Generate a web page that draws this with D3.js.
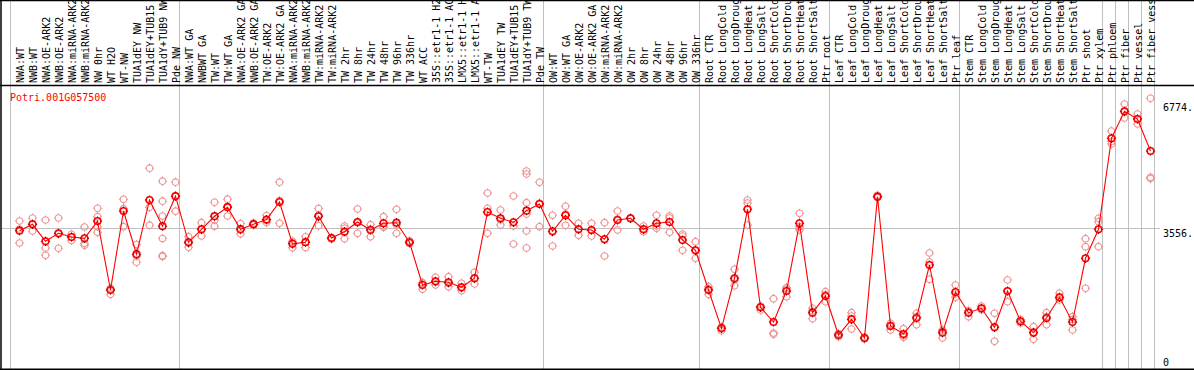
<!DOCTYPE html>
<html>
<head>
<meta charset="utf-8">
<script src="https://cdn.jsdelivr.net/npm/d3@7"></script>
<style>
  body { margin: 0; background: #fff; }
  svg { display: block; }
  text { font-family: "DejaVu Sans Mono", monospace; font-size: 10px; }
</style>
</head>
<body>
<svg id="chart" width="1194" height="370"></svg>
<script>
const geneName = "Potri.001G057500";

const categories = [
  "NWA:WT", "NWB:WT", "NWA:OE-ARK2", "NWB:OE-ARK2", "NWA:miRNA-ARK2", "NWB:miRNA-ARK2", "NW 0hr", "WT H2O", "WT-NW", "TUA1dEY NW", "TUA1dEY+TUB15 NW", "TUA1dY+TUB9 NW", "Pde NW",
  "NWA:WT GA", "NWBWT GA", "TW:WT", "TW:WT GA", "NWA:OE-ARK2 GA", "NWB:OE-ARK2 GA", "TW:OE-ARK2", "TW:OE-ARK2 GA", "NWA:miRNA-ARK2", "NWB:miRNA-ARK2", "TW:miRNA-ARK2", "TW:miRNA-ARK2", "TW 2hr", "TW 8hr", "TW 24hr", "TW 48hr", "TW 96hr", "TW 336hr", "WT ACC", "35S::etr1-1 H2O", "35S::etr1-1 ACC", "LMX5::etr1-1 H2O", "LMX5::etr1-1 ACC", "WT-TW", "TUA1dEY TW", "TUA1dEY+TUB15 TW", "TUA1dY+TUB9 TW", "Pde TW",
  "OW:WT", "OW:WT GA", "OW:OE-ARK2", "OW:OE-ARK2 GA", "OW:miRNA-ARK2", "OW:miRNA-ARK2", "OW 2hr", "OW 8hr", "OW 24hr", "OW 48hr", "OW 96hr", "OW 336hr",
  "Root CTR", "Root LongCold", "Root LongDrought", "Root LongHeat", "Root LongSalt", "Root ShortCold", "Root ShortDrought", "Root ShortHeat", "Root ShortSalt", "Ptr root",
  "Leaf CTR", "Leaf LongCold", "Leaf LongDrought", "Leaf LongHeat", "Leaf LongSalt", "Leaf ShortCold", "Leaf ShortDrought", "Leaf ShortHeat", "Leaf ShortSalt", "Ptr leaf",
  "Stem CTR", "Stem LongCold", "Stem LongDrought", "Stem LongHeat", "Stem LongSalt", "Stem ShortCold", "Stem ShortDrought", "Stem ShortHeat", "Stem ShortSalt", "Ptr shoot", "Ptr xylem",
  "Ptr phloem", "Ptr fiber", "Ptr vessel", "Ptr fiber vessel"
];

// first category index of each block (separated by grey lines)
const groupStarts = [0, 13, 41, 53, 63, 73, 84, 85, 86, 87];

const means = [
  3487, 3650, 3217, 3421, 3326, 3293, 3734, 1975, 3989, 2888, 4270, 3602, 4366,
  3191, 3523, 3857, 4086, 3525, 3653, 3773, 4219, 3153, 3194, 3854, 3301, 3462, 3709, 3505, 3676, 3691, 3191, 2103, 2197, 2172, 2044, 2274, 3964, 3803, 3701, 3997, 4168,
  3472, 3880, 3523, 3505, 3268, 3760, 3803, 3523, 3676, 3709, 3250, 2987,
  1975, 999, 2274, 4033, 1535, 1160, 1950, 3676, 1397, 1823,
  828, 1229, 752, 4354, 1058, 854, 1262, 2613, 887, 1924,
  1397, 1509, 1025, 1950, 1178, 887, 1262, 1789, 1160, 2784, 3523,
  5842, 6531, 6334, 5519
];

const replicates = [
  [3734, 3530, 3174], [3811, 3653, 3479], [3760, 3046, 2860], [3811, 3403, 3038], [3395, 3326, 3237], [3581, 3166, 3115], [4058, 3844, 3589, 3446], [2019, 1975, 1866], [4287, 4048, 3589], [3135, 2842, 2684], [5080, 4083, 3627], [4749, 4239, 3862, 3288, 2850, 2829], [4723, 3984, 4371],
  [3334, 3064, 3166], [3691, 3352, 3517], [4211, 3760, 3602], [4290, 3862, 4104], [3671, 3408, 3505], [3684, 3632, 3645], [3874, 3696, 3747], [4723, 3676, 4257], [3217, 3051, 3186], [3332, 3059, 3200], [4053, 3615, 3887], [3283, 3314, 3275], [3607, 3550, 3283], [4040, 3421, 3684], [3640, 3334, 3530], [3844, 3574, 3607], [4033, 3421, 3632], [3174, 3229, 3161], [2154, 1993, 2162], [2299, 2103, 2179], [2315, 2060, 2141], [2146, 1958, 2026], [2427, 2128, 2269], [4448, 4058, 3421], [4015, 3632, 3760], [4372, 3148, 3607], [5009, 4932, 4201, 3913, 3479, 3046], [4721, 3589, 4193],
  [3880, 3097, 3454], [4109, 3625, 3913], [3676, 3370, 3530], [3676, 3352, 3492], [3691, 2842, 3275], [3989, 3505, 3785], [3811, 3798, 3803], [3607, 3462, 3530], [3880, 3548, 3607], [3862, 3446, 3811], [3403, 2987, 3352], [3207, 2784, 2970],
  [2060, 1866, 2001], [1032, 938, 1007], [2503, 2085, 2230], [4270, 3632, 4193], [1466, 1568, 1555], [1754, 846, 879], [2001, 1805, 2039], [3931, 3505, 3589], [1509, 1244, 1440], [1932, 1677, 1861],
  [785, 867, 828], [1397, 981, 1313], [726, 777, 739], [4389, 4333, 4359], [1127, 956, 1083], [989, 770, 816], [1382, 1091, 1300], [2919, 2248, 2689], [956, 752, 926], [2103, 1789, 1874],
  [1415, 1295, 1453], [1568, 1466, 1504], [1382, 668, 1032], [2230, 1677, 1937], [1223, 1134, 1173], [1040, 719, 905], [1397, 1091, 1300], [1891, 1721, 1772], [1295, 956, 1223], [3283, 3079, 2019], [3803, 3716, 3079],
  [6028, 5697, 5761], [6717, 6360, 6513], [6462, 6207, 6334], [6862, 4848, 4817]
];

const yTicks = [6774, 3556, 0];
const yTickLabels = ["6774.", "3556.", "0"];

// layout
const width = 1194, height = 370;
const headerBottom = 85.5;
const step = 13;

const $svg = d3.select("#chart");

// categories repeat (e.g. "TW:miRNA-ARK2"), so the band scale is keyed by index
const x = d3.scaleBand()
    .domain(d3.range(categories.length))
    .range([11, 11 + step * categories.length]);
const cx = i => x(i) + 8.5;

const y = d3.scaleLinear()
    .domain([0, 3556])
    .range([367.5, 228]);

// grey block separators (full height)
const sepX = groupStarts.map(k => x(k)).concat([x.range()[1]]);
$svg.append("g")
  .selectAll("line")
  .data(sepX)
  .join("line")
    .attr("x1", d => d - 0.5).attr("x2", d => d - 0.5)
    .attr("y1", 0).attr("y2", height)
    .attr("stroke", "#c0c0c0");

// horizontal grid line
$svg.append("line")
    .attr("x1", 1).attr("x2", 1160)
    .attr("y1", Math.round(y(3556)) + 0.5).attr("y2", Math.round(y(3556)) + 0.5)
    .attr("stroke", "#c0c0c0");

// frame
const $frame = $svg.append("g").attr("stroke", "#000").attr("stroke-width", 1.5);
$frame.append("line").attr("x1", 0).attr("x2", width).attr("y1", 0.5).attr("y2", 0.5);
$frame.append("line").attr("x1", 0).attr("x2", width).attr("y1", headerBottom).attr("y2", headerBottom);
$frame.append("line").attr("x1", 0).attr("x2", width).attr("y1", 369.2).attr("y2", 369.2);
$frame.append("line").attr("x1", 1).attr("x2", 1).attr("y1", 0).attr("y2", height);

// category labels (rotated, clipped at the top like the original)
$svg.append("g")
  .selectAll("text")
  .data(categories)
  .join("text")
    .attr("transform", (d, i) => `translate(${cx(i) + 4},83) rotate(-90)`)
    .attr("fill", "#000")
    .text(d => d);

// y labels on the right
$svg.append("g")
  .selectAll("text")
  .data(yTicks)
  .join("text")
    .attr("x", 1163)
    .attr("y", d => Math.min(y(d) + 9, 366))
    .attr("fill", "#000")
    .text((d, i) => yTickLabels[i]);

// gene name
$svg.append("text")
    .attr("x", 10).attr("y", 101)
    .attr("fill", "#ff0000")
    .text(geneName);

// marker: ring plus small ticks
const r = 3.3;
const ring = d3.path();
ring.arc(0, 0, r, 0, 2 * Math.PI);
const ticks = d3.path();
[[0, -1], [0, 1], [-1, 0], [1, 0]].forEach(([dx, dy]) => {
  ticks.moveTo(dx * r, dy * r);
  ticks.lineTo(dx * (r + 1.3), dy * (r + 1.3));
});

function drawMarkers(selection, points, color, tickColor, strokeWidth) {
  const g = selection.append("g")
    .selectAll("g")
    .data(points)
    .join("g")
      .attr("transform", d => `translate(${cx(d.i)},${y(d.v)})`);
  g.append("path").attr("d", ring.toString())
    .attr("fill", "none").attr("stroke", color).attr("stroke-width", strokeWidth);
  g.append("path").attr("d", ticks.toString())
    .attr("fill", "none").attr("stroke", tickColor).attr("stroke-width", 1.1);
}

// replicates
const repPoints = categories.flatMap((c, i) => replicates[i].map(v => ({ i, v })));
drawMarkers($svg, repPoints, "#ee9494", "#ee9494", 1.1);

// mean line
const meanPoints = categories.map((c, i) => ({ i, v: means[i] }));
$svg.append("path")
    .datum(meanPoints)
    .attr("d", d3.line().x(d => cx(d.i)).y(d => y(d.v)))
    .attr("fill", "none")
    .attr("stroke", "#ff0000")
    .attr("stroke-width", 1.1);

// mean markers
drawMarkers($svg, meanPoints, "#ff0000", "#8b0000", 1.6);
</script>
</body>
</html>
